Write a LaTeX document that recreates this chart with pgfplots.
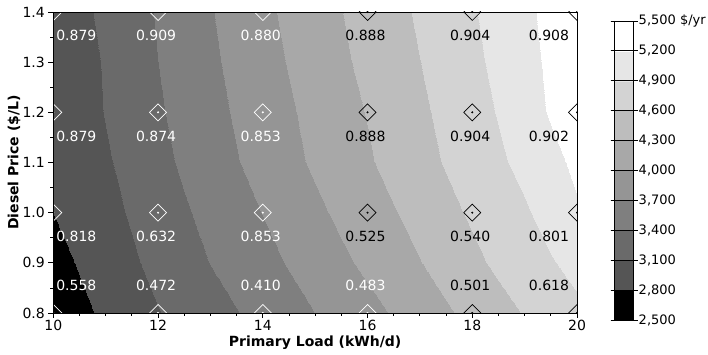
\documentclass[border=0pt]{standalone}
\usepackage{fontspec}
\setmainfont{DejaVu Sans}
\usepackage{pgfplots}
\usepackage{pgfplotstable}
\pgfplotsset{compat=1.18}

% total annualized cost ($/yr) on a grid: rows y = 0.8 ... 1.4, x = 10 ... 20 step 0.5
\pgfplotstableread{
x y z
10 0.8 2616
10.5 0.8 2734
11 0.8 2852
11.5 0.8 2970
12 0.8 3088
12.5 0.8 3190
13 0.8 3290
13.5 0.8 3390
14 0.8 3493
14.5 0.8 3597
15 0.8 3700
15.5 0.8 3807
16 0.8 3914
16.5 0.8 4024
17 0.8 4143
17.5 0.8 4262
18 0.8 4381
18.5 0.8 4500
19 0.8 4619
19.5 0.8 4736
20 0.8 4835
10 0.9 2698
10.5 0.9 2820
11 0.9 2941
11.5 0.9 3063
12 0.9 3179
12.5 0.9 3292
13 0.9 3404
13.5 0.9 3509
14 0.9 3614
14.5 0.9 3720
15 0.9 3833
15.5 0.9 3946
16 0.9 4060
16.5 0.9 4175
17 0.9 4291
17.5 0.9 4412
18 0.9 4534
18.5 0.9 4652
19 0.9 4765
19.5 0.9 4877
20 0.9 4992
10 1.0 2800
10.5 1.0 2909
11 1.0 3017
11.5 1.0 3129
12 1.0 3248
12.5 1.0 3367
13 1.0 3481
13.5 1.0 3594
14 1.0 3707
14.5 1.0 3823
15 1.0 3940
15.5 1.0 4055
16 1.0 4168
16.5 1.0 4282
17 1.0 4401
17.5 1.0 4521
18 1.0 4639
18.5 1.0 4752
19 1.0 4866
19.5 1.0 5011
20 1.0 5168
10 1.1 2813
10.5 1.1 2941
11 1.1 3069
11.5 1.1 3195
12 1.1 3320
12.5 1.1 3444
13 1.1 3566
13.5 1.1 3688
14 1.1 3807
14.5 1.1 3926
15 1.1 4043
15.5 1.1 4156
16 1.1 4268
16.5 1.1 4402
17 1.1 4503
17.5 1.1 4623
18 1.1 4737
18.5 1.1 4853
19 1.1 4983
19.5 1.1 5122
20 1.1 5261
10 1.2 2841
10.5 1.2 2979
11 1.2 3115
11.5 1.2 3241
12 1.2 3367
12.5 1.2 3490
13 1.2 3612
13.5 1.2 3733
14 1.2 3850
14.5 1.2 3967
15 1.2 4084
15.5 1.2 4200
16 1.2 4316
16.5 1.2 4434
17 1.2 4551
17.5 1.2 4670
18 1.2 4791
18.5 1.2 4916
19 1.2 5074
19.5 1.2 5229
20 1.2 5371
10 1.3 2855
10.5 1.3 2991
11 1.3 3127
11.5 1.3 3264
12 1.3 3400
12.5 1.3 3525
13 1.3 3650
13.5 1.3 3773
14 1.3 3895
14.5 1.3 4017
15 1.3 4136
15.5 1.3 4255
16 1.3 4370
16.5 1.3 4484
17 1.3 4598
17.5 1.3 4717
18 1.3 4836
18.5 1.3 4966
19 1.3 5111
19.5 1.3 5252
20 1.3 5390
10 1.4 2903
10.5 1.4 3033
11 1.4 3163
11.5 1.4 3293
12 1.4 3423
12.5 1.4 3553
13 1.4 3682
13.5 1.4 3809
14 1.4 3936
14.5 1.4 4059
15 1.4 4176
15.5 1.4 4293
16 1.4 4408
16.5 1.4 4524
17 1.4 4640
17.5 1.4 4757
18 1.4 4874
18.5 1.4 5006
19 1.4 5143
19.5 1.4 5279
20 1.4 5415
}\costgrid

% sensitivity points with their values (label offsets in pt)
\pgfplotstableread{
x y lab dx dy
10 1.4 0.879 23 -23
12 1.4 0.909 -2 -23
14 1.4 0.880 -2 -23
10 1.2 0.879 23 -24
12 1.2 0.874 -2 -24
14 1.2 0.853 -2 -24
10 1.0 0.818 23 -24
12 1.0 0.632 -2 -24
14 1.0 0.853 -2 -24
10 0.8 0.558 23 28
12 0.8 0.472 -2 28
14 0.8 0.410 -2 28
16 0.8 0.483 -2 28
}\whitepts

\pgfplotstableread{
x y lab dx dy
16 1.4 0.888 -2 -23
18 1.4 0.904 -2 -23
20 1.4 0.908 -28 -23
16 1.2 0.888 -2 -24
18 1.2 0.904 -2 -24
20 1.2 0.902 -28 -24
16 1.0 0.525 -2 -24
18 1.0 0.540 -2 -24
20 1.0 0.801 -28 -24
18 0.8 0.501 -2 28
20 0.8 0.618 -28 28
}\blackpts

\begin{document}
\begin{tikzpicture}[x=1pt,y=1pt]
\path[use as bounding box] (0,0) rectangle (708,355);
\begin{axis}[
  at={(53.3pt,42pt)}, anchor=south west,
  scale only axis, width=523.7pt, height=301pt,
  xmin=10, xmax=20, ymin=0.8, ymax=1.4,
  clip marker paths=true,
  point meta min=2500, point meta max=5500,
  colormap={homer}{gray(0cm)=(0); gray(1cm)=(0.333); gray(2cm)=(0.416);
    gray(3cm)=(0.498); gray(4cm)=(0.584); gray(5cm)=(0.659); gray(6cm)=(0.741);
    gray(7cm)=(0.827); gray(8cm)=(0.902); gray(9cm)=(1); gray(10cm)=(1)},
  colormap access=piecewise constant,
  colorbar sampled,
  colorbar style={
    at={(parent axis.north east)}, anchor=north west,
    xshift=29pt, yshift=-9pt,
    scale only axis, width=19pt, height=299pt,
    samples=11,
    ytick={2500,2800,3100,3400,3700,4000,4300,4600,4900,5200,5500},
    yticklabels={{2,500},{2,800},{3,100},{3,400},{3,700},{4,000},{4,300},{4,600},{4,900},{5,200},{5,500 \$/yr}},
    yticklabel style={font=\fontsize{13}{15}\selectfont, inner sep=1pt},
    ymajorgrids, major grid style={black, line width=0.8pt},
    tick align=outside, major tick length=4pt,
    tick style={black, line width=0.8pt},
    axis line style={black, line width=0.8pt},
    axis on top,
  },
  xtick={10,12,14,16,18,20},
  ytick={0.8,0.9,1.0,1.1,1.2,1.3,1.4},
  minor x tick num=3, minor y tick num=1,
  tick pos=left, tick align=outside,
  major tick length=5pt, minor tick length=3pt,
  tick style={black, line width=0.8pt},
  axis line style={black, line width=0.8pt},
  /pgf/number format/assume math mode=true,
  tick label style={font=\fontsize{14}{16}\selectfont},
  yticklabel style={/pgf/number format/.cd, fixed, fixed zerofill, precision=1},
  xticklabel style={inner sep=2pt},
  every axis x label/.style={at={(axis description cs:0.5,-0.1)}, anchor=center},
  every axis y label/.style={at={(axis description cs:-0.075,0.5)}, anchor=center, rotate=90},
  label style={font=\bfseries\fontsize{14}{17}\selectfont},
  xlabel={Primary Load (kWh/d)},
  ylabel={Diesel Price (\$/L)},
  axis on top,
]
\addplot[surf, shader=interp, mesh/rows=7, mesh/cols=21, point meta=\thisrow{z}]
  table[x=x, y=y] {\costgrid};

\addplot[only marks, mark=square, mark size=6pt, mark options={rotate=45, draw=white, fill=none, line width=0.7pt},
  nodes near coords, point meta=explicit symbolic,
  visualization depends on={\thisrow{dx}\as\dx},
  visualization depends on={\thisrow{dy}\as\dy},
  every node near coord/.append style={anchor=center, xshift=\dx pt, yshift=\dy pt, text=white, inner sep=0pt, font=\fontsize{14}{16}\selectfont}]
  table[x=x, y=y, meta=lab] {\whitepts};
\addplot[only marks, mark=*, mark size=0.8pt, mark options={draw=white, fill=white}]
  table[x=x, y=y] {\whitepts};

\addplot[only marks, mark=square, mark size=6pt, mark options={rotate=45, draw=black, fill=none, line width=0.7pt},
  nodes near coords, point meta=explicit symbolic,
  visualization depends on={\thisrow{dx}\as\dx},
  visualization depends on={\thisrow{dy}\as\dy},
  every node near coord/.append style={anchor=center, xshift=\dx pt, yshift=\dy pt, text=black, inner sep=0pt, font=\fontsize{14}{16}\selectfont}]
  table[x=x, y=y, meta=lab] {\blackpts};
\addplot[only marks, mark=*, mark size=0.8pt, mark options={draw=black, fill=black}]
  table[x=x, y=y] {\blackpts};
\end{axis}
\end{tikzpicture}
\end{document}
